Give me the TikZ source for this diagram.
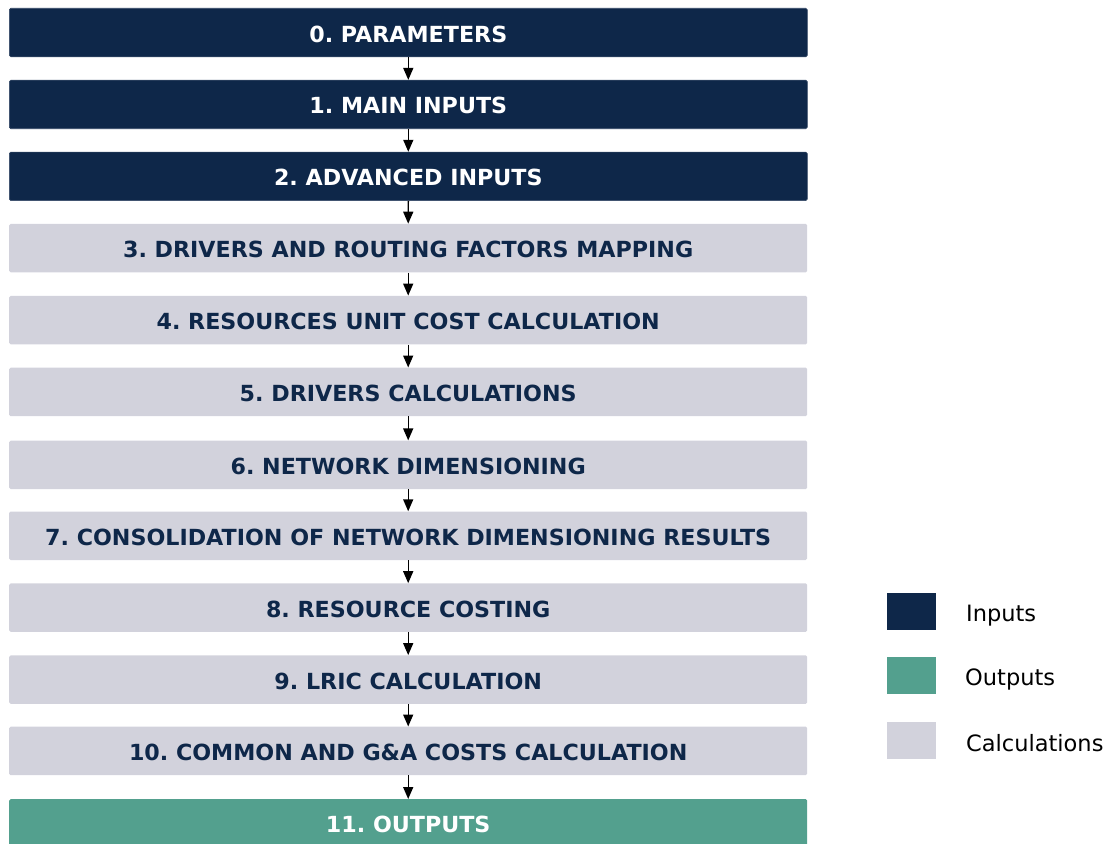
\documentclass[tikz,border=0pt]{standalone}
\usepackage{fontspec}
\setmainfont{DejaVu Sans}
\usetikzlibrary{arrows.meta}
\definecolor{navy}{HTML}{0E2749}
\definecolor{teal}{HTML}{53A08E}
\definecolor{calc}{HTML}{D2D2DC}
\frenchspacing
\tikzset{
  stage/.style={rectangle, rounded corners=1.5pt, minimum width=798pt, minimum height=48.5pt,
    anchor=north west, inner sep=0pt, text height=19pt, text depth=0pt,
    font=\fontsize{22.2}{24}\selectfont\bfseries},
  inbox/.style={stage, fill=navy, draw=navy!85!white, line width=0.6pt, text=white},
  calcbox/.style={stage, fill=calc, text=navy},
  outbox/.style={stage, fill=teal, text=white},
  flow/.style={draw=black, line width=1.4pt, -{Triangle[length=12pt,width=10pt]}},
  swatch/.style={rectangle, minimum width=49pt, minimum height=37pt, anchor=north west, inner sep=0pt},
  legtext/.style={anchor=west, inner sep=0pt, font=\fontsize{22.5}{24}\selectfont, text=black}
}
\begin{document}
\begin{tikzpicture}[x=1pt, y=-1pt]
\useasboundingbox (0,0) rectangle (1105,843);
\clip (0,0) rectangle (1105,843);
% process stages
\node[inbox]   (s0)  at (9,8)     {0. PARAMETERS};
\node[inbox]   (s1)  at (9,79.9)  {1. MAIN INPUTS};
\node[inbox]   (s2)  at (9,151.8) {2. ADVANCED INPUTS};
\node[calcbox] (s3)  at (9,223.7) {3. DRIVERS AND ROUTING FACTORS MAPPING};
\node[calcbox] (s4)  at (9,295.6) {4. RESOURCES UNIT COST CALCULATION};
\node[calcbox] (s5)  at (9,367.5) {5. DRIVERS CALCULATIONS};
\node[calcbox] (s6)  at (9,440.4) {6. NETWORK DIMENSIONING};
\node[calcbox] (s7)  at (9,511.3) {7. CONSOLIDATION OF NETWORK DIMENSIONING RESULTS};
\node[calcbox] (s8)  at (9,583.2) {8. RESOURCE COSTING};
\node[calcbox] (s9)  at (9,655.1) {9. LRIC CALCULATION};
\node[calcbox] (s10) at (9,726.5) {10. COMMON AND G\&A COSTS CALCULATION};
\node[outbox]  (s11) at (9,799)   {11. OUTPUTS};
% connectors between consecutive stages
\foreach \a/\b in {s0/s1,s1/s2,s2/s3,s3/s4,s4/s5,s5/s6,s6/s7,s7/s8,s8/s9,s9/s10,s10/s11}
  \draw[flow] (\a.south) -- (\b.north);
% legend
\node[swatch, fill=navy] (l1) at (887,593) {};
\node[swatch, fill=teal] (l2) at (887,657) {};
\node[swatch, fill=calc] (l3) at (887,721.5) {};
\node[legtext] (t1) at (966,615.5) {Inputs};
\node[legtext] (t2) at (965,679.5) {Outputs};
\node[legtext] (t3) at (966,743.5) {Calculations};
\end{tikzpicture}
\end{document}
